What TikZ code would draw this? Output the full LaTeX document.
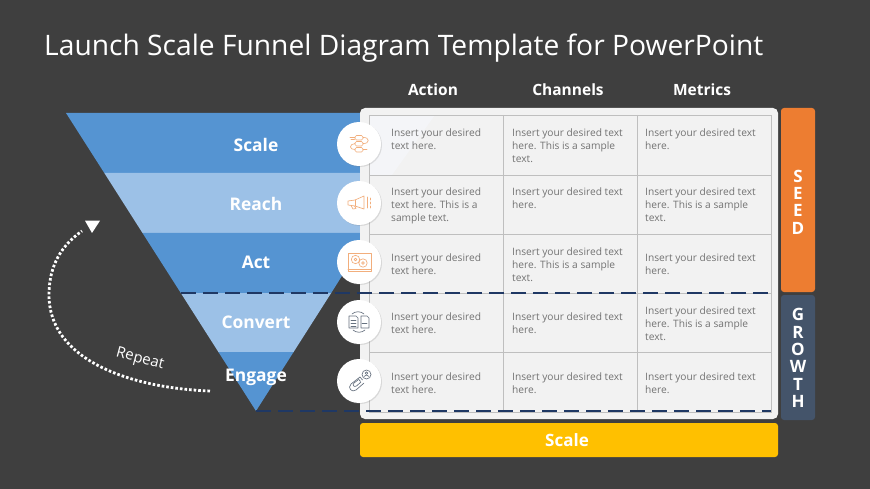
\documentclass[tikz,border=0pt]{standalone}
\usepackage{fontspec}
\setmainfont{Open Sans}
\usetikzlibrary{shadows,calc}
\definecolor{bgc}{HTML}{3F3F3F}
\definecolor{bluedk}{HTML}{5594D2}
\definecolor{bluelt}{HTML}{9CC1E7}
\definecolor{cardc}{HTML}{F2F2F2}
\definecolor{cardhi}{HTML}{F4F5F8}
\definecolor{gridc}{HTML}{BFBFBF}
\definecolor{celltxt}{HTML}{737373}
\definecolor{navy}{HTML}{1F3864}
\definecolor{seedc}{HTML}{ED7D31}
\definecolor{growc}{HTML}{44546A}
\definecolor{yel}{HTML}{FFC000}
\definecolor{icono}{HTML}{F2AE7C}
\definecolor{icong}{HTML}{66717F}
\tikzset{
  x=1pt,y=-1pt,
  slice/.style={draw=none},
  flabel/.style={text=white,font=\fontsize{17.4}{20}\selectfont\bfseries,inner sep=0pt},
  head/.style={text=white,font=\fontsize{15.5}{18}\selectfont\bfseries,inner sep=0pt},
  cell/.style={anchor=north west,align=left,inner sep=0pt,text=celltxt,font=\fontsize{10.2}{13}\selectfont},
  band/.style={rounded corners=3pt,draw=none},
  bandtxt/.style={text=white,align=center,inner sep=0pt,font=\fontsize{17}{17.4}\selectfont\bfseries},
  disc/.style={circle,fill=white,minimum size=44pt,inner sep=0pt,draw=none,
     drop shadow={opacity=.22,shadow xshift=1pt,shadow yshift=-1pt}},
  divider/.style={navy,line width=1.5pt,dash pattern=on 15pt off 7pt},
  ico/.style={line width=.65pt,line join=round,line cap=round},
}
\newcommand{\cellA}{Insert your desired\\text here.}
\newcommand{\cellB}{Insert your desired\\text here. This is a\\sample text.}
\newcommand{\cellC}{Insert your desired text\\here.}
\newcommand{\cellD}{Insert your desired text\\here. This is a sample\\text.}
\begin{document}
\begin{tikzpicture}
\useasboundingbox (0,0) rectangle (870,489);
\fill[bgc] (0,0) rectangle (870,489);
\node[anchor=base west,inner sep=0pt,text=white,font=\fontsize{28.2}{32}\selectfont] (title) at (44,56) {Launch Scale Funnel Diagram Template for PowerPoint};
% funnel
\fill[bluedk,slice] (66,113) -- (362,113) -- (362,173) -- (104.3,173) -- cycle;
\fill[bluelt,slice] (104.3,173) -- (362,173) -- (362,233) -- (142.5,233) -- cycle;
\fill[bluedk,slice] (142.5,233) -- (369,233) -- (331.2,293) -- (180.8,293) -- cycle;
\fill[bluelt,slice] (180.8,293) -- (331.2,293) -- (293.6,352) -- (218.4,352) -- cycle;
\fill[bluedk,slice] (218.4,352) -- (293.6,352) -- (256,411) -- cycle;
\node[flabel] (lscale) at (256,145) {Scale};
\node[flabel] (lreach) at (256,204) {Reach};
\node[flabel] (lact) at (256,262) {Act};
\node[flabel] (lconv) at (256,322) {Convert};
\node[flabel] (leng) at (256,377.5) {Engage};
% headers
\node[head] (hact) at (433,90) {Action};
\node[head] (hch) at (568,90) {Channels};
\node[head] (hmet) at (702,90) {Metrics};
% card
\fill[cardc,rounded corners=5pt] (360,108) rectangle (778,419);
\fill[cardhi] (369,115) -- (435,115) -- (392,175) -- (369,175) -- cycle;
\draw[gridc,line width=.8pt] (369,115) rectangle (771,412);
\foreach \yy in {175,234,293,352} \draw[gridc,line width=.8pt] (369,\yy) -- (771,\yy);
\foreach \xx in {503,637} \draw[gridc,line width=.8pt] (\xx,115) -- (\xx,412);
% cells
\node[cell] (c11) at (391,129) {\cellA};
\node[cell] (c12) at (512,129) {\cellD};
\node[cell] (c13) at (645,129) {\cellC};
\node[cell] (c21) at (391,188) {\cellB};
\node[cell] (c22) at (512,188) {\cellC};
\node[cell] (c23) at (645,188) {\cellD};
\node[cell] (c31) at (391,254) {\cellA};
\node[cell] (c32) at (512,248) {\cellD};
\node[cell] (c33) at (645,254) {\cellC};
\node[cell] (c41) at (391,313) {\cellA};
\node[cell] (c42) at (512,313) {\cellC};
\node[cell] (c43) at (645,307) {\cellD};
\node[cell] (c51) at (391,373) {\cellA};
\node[cell] (c52) at (512,373) {\cellC};
\node[cell] (c53) at (645,373) {\cellC};
% discs
\node[disc] (d1) at (359,144) {};
\node[disc] (d2) at (359,203) {};
\node[disc] (d3) at (359,262) {};
\node[disc] (d4) at (359,322) {};
\node[disc] (d5) at (359,381) {};
% icon 1
\begin{scope}[shift={(d1.center)},ico,draw=icono]
\draw[rounded corners=1.5pt] (-4,-8.5) rectangle (4,-4);
\draw[rounded corners=1.5pt] (-4,-2.5) rectangle (4,2);
\draw[rounded corners=1.5pt] (-4,3.5) rectangle (4,8);
\draw (4,-6.5) .. controls (11,-7) and (11,0) .. (4,-.5);
\draw (-4,-.5) .. controls (-10,0) and (-10,6) .. (-4,5.5);
\draw (-9,-6.5) -- (-4,-6.5) (-8,-4.5) -- (-4.5,-4.5);
\draw (4,5.5) -- (8,5.5);
\end{scope}
% icon 2
\begin{scope}[shift={(d2.center)},ico,draw=icono]
\draw (-11,-2) -- (-4,-3) -- (5,-7) -- (5,6) -- (-4,3) -- (-11,2) -- cycle;
\draw (-4,-3) -- (-4,3);
\draw (-8,2.5) -- (-6,6) -- (-3,5.5) -- (-4.5,3);
\draw (8,-6) -- (8,5) (11,-5) -- (11,-3) (11,-1) -- (11,1) (11,3) -- (11,5);
\end{scope}
% icon 3
\begin{scope}[shift={(d3.center)},ico,draw=icono]
\draw (-11,-9) rectangle (12,9.5);
\draw (-11,7) -- (12,7);
\draw (-3.5,-2.5) circle (4.2) (4,1) circle (4.2);
\draw (-3.5,-2.5) circle (1.4) (4,1) circle (1.4);
\end{scope}
% icon 4
\begin{scope}[shift={(d4.center)},ico,draw=icong]
\draw (-10,-6) -- (-3,-6) -- (-1,-4) -- (-1,6) -- (-10,6) -- cycle;
\draw (-8,-2) -- (-3,-2) (-8,1) -- (-3,1) (-8,4) -- (-3,4);
\draw (2,-6) -- (8,-6) -- (10,-4) -- (10,6) -- (2,6) -- cycle;
\draw (3,1) -- (8,1);
\draw (-7,-8) .. controls (-4,-11) and (2,-11) .. (5,-8);
\draw (-6,8) .. controls (-3,11) and (3,11) .. (6,8);
\end{scope}
% icon 5
\begin{scope}[shift={(d5.center)},ico,draw=icong]
\draw (7.5,-6.5) circle (4.5);
\draw (7.5,-7.8) circle (1.3);
\draw (5,-4.5) .. controls (6,-6.5) and (9,-6.5) .. (10,-4.5);
\draw (1,-4) -- (-8,3) .. controls (-12,7) and (-7,12) .. (-3,9) -- (5,2);
\draw (-1,-1) -- (-5,2) .. controls (-7,4) and (-5,6.5) .. (-2.5,5) -- (2,1);
\draw (-1,-2.5) -- (1.5,.5) (1,-4) -- (3.5,-1) ;
\end{scope}
% bands
\fill[seedc,band] (781,108) rectangle (815,292);
\fill[growc,band] (781,295) rectangle (815,420);
\node[bandtxt] (seed) at (798,202) {S\\E\\E\\D};
\node[bandtxt] (growth) at (798,358) {G\\R\\O\\W\\T\\H};
\fill[yel,band] (360,423) rectangle (778,457);
\node[flabel,font=\fontsize{17}{20}\selectfont\bfseries] (sbar) at (567,440) {Scale};
% dividers
\coordinate (da) at (180.8,293);
\coordinate (db) at (771,293);
\coordinate (dc) at (256,411);
\coordinate (dd) at (771,411);
\draw[divider] (da) -- (db);
\draw[divider] (dc) -- (dd);
% repeat
\coordinate (ra) at (210,391);
\coordinate (rb) at (82,231);
\draw[white,line width=2.8pt,dash pattern=on 2.6pt off 2.0pt]
  (ra) .. controls (130,388) and (49,360) .. (49,295) .. controls (49,265) and (62,245) .. (rb);
\fill[white] (85,220.7) -- (100,220.7) -- (92,233) -- cycle;
\node[text=white,inner sep=0pt,rotate=-15,font=\fontsize{15}{18}\selectfont] (rep) at (140,359.5) {Repeat};
\end{tikzpicture}
\end{document}
